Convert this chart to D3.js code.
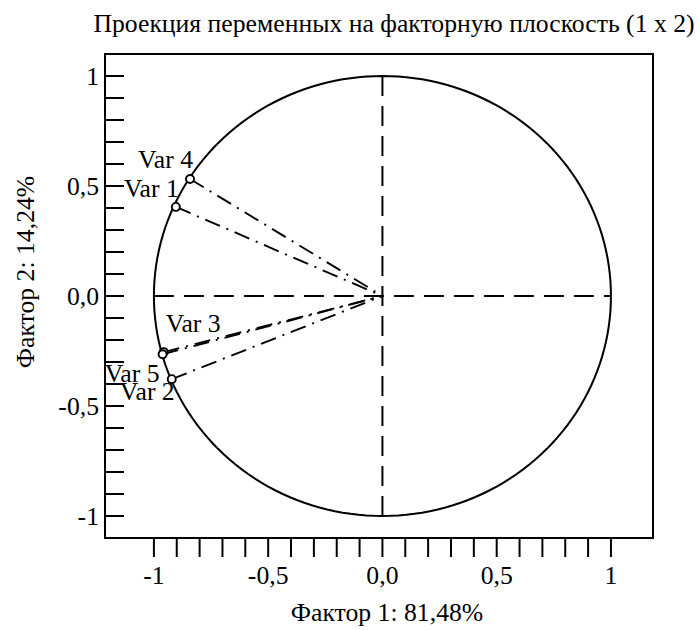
<!DOCTYPE html>
<html>
<head>
<meta charset="utf-8">
<script src="https://cdn.jsdelivr.net/npm/d3@7"></script>
<style>
  body { margin: 0; background: #fff; }
  text { font-family: "Liberation Serif", "Times New Roman", serif; fill: #000; }
</style>
</head>
<body>
<div id="chart"></div>
<script>
// variable loadings on factor 1 / factor 2
const varNames = ["Var 1", "Var 2", "Var 3", "Var 4", "Var 5"];
const factor1 = [-0.904, -0.922, -0.957, -0.842, -0.962];
const factor2 = [0.405, -0.378, -0.255, 0.532, -0.265];

const tickValues = [-1, -0.5, 0, 0.5, 1];
const tickLabels = ["-1", "-0,5", "0,0", "0,5", "1"];

const titleText = "Проекция переменных на факторную плоскость (1 x 2)";
const xTitle = "Фактор 1: 81,48%";
const yTitle = "Фактор 2: 14,24%";

// where each label sits relative to its point
const labelPlace = {
  "Var 1": {anchor: "end", dx: 3, dy: -10},
  "Var 2": {anchor: "end", dx: 3, dy: 21},
  "Var 3": {anchor: "start", dx: 2, dy: -20},
  "Var 4": {anchor: "end", dx: 3, dy: -11},
  "Var 5": {anchor: "end", dx: -3, dy: 28}
};

const W = 697, H = 630;
const box = {left: 105, right: 653, top: 54, bottom: 538};
const fs = 25.7;

const svg = d3.select("#chart").append("svg")
  .attr("width", W)
  .attr("height", H);

const x = d3.scaleLinear().domain([-1.214, 1.184]).range([box.left, box.right]);
const y = d3.scaleLinear().domain([-1.1, 1.1]).range([box.bottom, box.top]);

const minor = d3.range(-10, 11).map(d => d / 10);

// title
svg.append("text")
  .attr("x", 394)
  .attr("y", 32)
  .attr("text-anchor", "middle")
  .style("font-size", fs + "px")
  .text(titleText);

// unit circle
const circ = d3.range(0, 361, 2).map(a => [Math.cos(a * Math.PI / 180), Math.sin(a * Math.PI / 180)]);
svg.append("path")
  .attr("d", d3.line().x(d => x(d[0])).y(d => y(d[1]))(circ))
  .attr("fill", "none")
  .attr("stroke", "#000")
  .attr("stroke-width", 2);

// cross hairs
svg.append("line")
  .attr("x1", x(-1)).attr("x2", x(1))
  .attr("y1", y(0)).attr("y2", y(0))
  .attr("stroke", "#000").attr("stroke-width", 2)
  .attr("stroke-dasharray", "20,10");
svg.append("line")
  .attr("x1", x(0)).attr("x2", x(0))
  .attr("y1", y(1)).attr("y2", y(-1))
  .attr("stroke", "#000").attr("stroke-width", 2)
  .attr("stroke-dasharray", "20,10");

// vectors
const pts = varNames.map((n, i) => ({name: n, f1: factor1[i], f2: factor2[i]}));

svg.selectAll(".vec")
  .data(pts)
  .enter().append("line")
  .attr("class", "vec")
  .attr("x1", d => x(d.f1)).attr("y1", d => y(d.f2))
  .attr("x2", x(0)).attr("y2", y(0))
  .attr("stroke", "#000")
  .attr("stroke-width", 1.9)
  .attr("stroke-dasharray", "16,7,2,7");

svg.selectAll(".pt")
  .data(pts)
  .enter().append("circle")
  .attr("class", "pt")
  .attr("cx", d => x(d.f1)).attr("cy", d => y(d.f2))
  .attr("r", 4)
  .attr("fill", "#fff")
  .attr("stroke", "#000")
  .attr("stroke-width", 1.9);

svg.selectAll(".lbl")
  .data(pts)
  .enter().append("text")
  .attr("class", "lbl")
  .attr("x", d => x(d.f1) + labelPlace[d.name].dx)
  .attr("y", d => y(d.f2) + labelPlace[d.name].dy)
  .attr("text-anchor", d => labelPlace[d.name].anchor)
  .style("font-size", fs + "px")
  .text(d => d.name);

// frame
svg.append("rect")
  .attr("x", box.left).attr("y", box.top)
  .attr("width", box.right - box.left)
  .attr("height", box.bottom - box.top)
  .attr("fill", "none")
  .attr("stroke", "#000")
  .attr("stroke-width", 2);

// y ticks (inside frame)
svg.selectAll(".ytick")
  .data(minor)
  .enter().append("line")
  .attr("x1", box.left).attr("x2", box.left + 19)
  .attr("y1", d => y(d)).attr("y2", d => y(d))
  .attr("stroke", "#000").attr("stroke-width", 2);

svg.selectAll(".ylab")
  .data(tickValues)
  .enter().append("text")
  .attr("x", 99)
  .attr("y", d => y(d))
  .attr("dy", "0.35em")
  .attr("text-anchor", "end")
  .style("font-size", fs + "px")
  .text((d, i) => tickLabels[i]);

// x ticks (below frame)
svg.selectAll(".xtick")
  .data(minor)
  .enter().append("line")
  .attr("x1", d => x(d)).attr("x2", d => x(d))
  .attr("y1", box.bottom).attr("y2", box.bottom + 19)
  .attr("stroke", "#000").attr("stroke-width", 2);

svg.selectAll(".xlab")
  .data(tickValues)
  .enter().append("text")
  .attr("x", d => x(d))
  .attr("y", 584)
  .attr("text-anchor", "middle")
  .style("font-size", fs + "px")
  .text((d, i) => tickLabels[i]);

// axis titles
svg.append("text")
  .attr("x", 387)
  .attr("y", 621)
  .attr("text-anchor", "middle")
  .style("font-size", fs + "px")
  .text(xTitle);

svg.append("text")
  .attr("transform", "translate(34,272) rotate(-90)")
  .attr("text-anchor", "middle")
  .style("font-size", fs + "px")
  .text(yTitle);
</script>
</body>
</html>
